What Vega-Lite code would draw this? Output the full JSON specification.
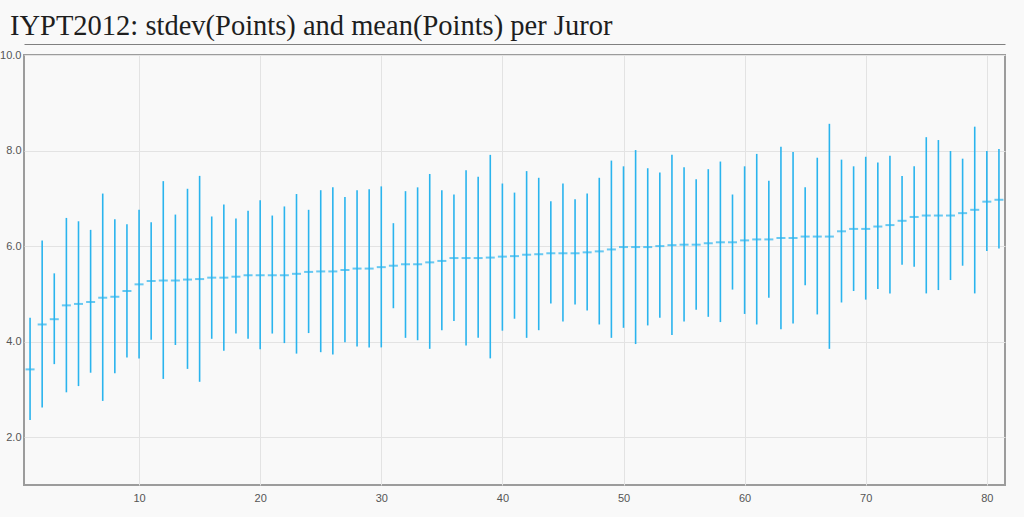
{
  "$schema": "https://vega.github.io/schema/vega-lite/v6.json",
  "width": 981,
  "height": 430,
  "autosize": {"type": "none"},
  "padding": {"left": 24, "top": 55, "right": 19, "bottom": 32},
  "background": "#f9f9f9",
  "title": {
    "text": "IYPT2012: stdev(Points) and mean(Points) per Juror",
    "anchor": "start",
    "frame": "group",
    "font": "Liberation Serif",
    "fontSize": 28.5,
    "fontWeight": "normal",
    "color": "#1e1e1e",
    "dx": -14,
    "offset": 4
  },
  "config": {
    "view": {"stroke": "#9c9c9c", "strokeWidth": 2},
    "axis": {
      "labelFont": "Liberation Sans",
      "labelFontSize": 11,
      "labelColor": "#555555",
      "gridColor": "#e3e3e3",
      "gridWidth": 1,
      "domain": false,
      "ticks": false,
      "title": null,
      "labelFlush": false
    }
  },
  "data": {
    "values": [
      {"juror": 1, "mean": 3.42, "lo": 2.36, "hi": 4.50},
      {"juror": 2, "mean": 4.36, "lo": 2.62, "hi": 6.12},
      {"juror": 3, "mean": 4.47, "lo": 3.53, "hi": 5.43},
      {"juror": 4, "mean": 4.76, "lo": 2.94, "hi": 6.59},
      {"juror": 5, "mean": 4.79, "lo": 3.07, "hi": 6.52},
      {"juror": 6, "mean": 4.83, "lo": 3.35, "hi": 6.34},
      {"juror": 7, "mean": 4.92, "lo": 2.76, "hi": 7.10},
      {"juror": 8, "mean": 4.94, "lo": 3.34, "hi": 6.56},
      {"juror": 9, "mean": 5.06, "lo": 3.67, "hi": 6.46},
      {"juror": 10, "mean": 5.20, "lo": 3.65, "hi": 6.76},
      {"juror": 11, "mean": 5.27, "lo": 4.04, "hi": 6.50},
      {"juror": 12, "mean": 5.28, "lo": 3.22, "hi": 7.36},
      {"juror": 13, "mean": 5.28, "lo": 3.93, "hi": 6.66},
      {"juror": 14, "mean": 5.30, "lo": 3.43, "hi": 7.20},
      {"juror": 15, "mean": 5.31, "lo": 3.16, "hi": 7.47},
      {"juror": 16, "mean": 5.34, "lo": 4.06, "hi": 6.62},
      {"juror": 17, "mean": 5.34, "lo": 3.81, "hi": 6.87},
      {"juror": 18, "mean": 5.36, "lo": 4.17, "hi": 6.58},
      {"juror": 19, "mean": 5.39, "lo": 4.06, "hi": 6.74},
      {"juror": 20, "mean": 5.39, "lo": 3.84, "hi": 6.96},
      {"juror": 21, "mean": 5.39, "lo": 4.17, "hi": 6.64},
      {"juror": 22, "mean": 5.39, "lo": 3.97, "hi": 6.83},
      {"juror": 23, "mean": 5.42, "lo": 3.75, "hi": 7.09},
      {"juror": 24, "mean": 5.46, "lo": 4.18, "hi": 6.76},
      {"juror": 25, "mean": 5.47, "lo": 3.78, "hi": 7.17},
      {"juror": 26, "mean": 5.47, "lo": 3.73, "hi": 7.23},
      {"juror": 27, "mean": 5.50, "lo": 3.99, "hi": 7.03},
      {"juror": 28, "mean": 5.53, "lo": 3.90, "hi": 7.17},
      {"juror": 29, "mean": 5.53, "lo": 3.88, "hi": 7.19},
      {"juror": 30, "mean": 5.56, "lo": 3.88, "hi": 7.25},
      {"juror": 31, "mean": 5.59, "lo": 4.70, "hi": 6.48},
      {"juror": 32, "mean": 5.62, "lo": 4.08, "hi": 7.15},
      {"juror": 33, "mean": 5.62, "lo": 4.03, "hi": 7.23},
      {"juror": 34, "mean": 5.66, "lo": 3.85, "hi": 7.51},
      {"juror": 35, "mean": 5.69, "lo": 4.24, "hi": 7.17},
      {"juror": 36, "mean": 5.75, "lo": 4.43, "hi": 7.08},
      {"juror": 37, "mean": 5.75, "lo": 3.92, "hi": 7.59},
      {"juror": 38, "mean": 5.75, "lo": 4.08, "hi": 7.45},
      {"juror": 39, "mean": 5.76, "lo": 3.65, "hi": 7.91},
      {"juror": 40, "mean": 5.78, "lo": 4.23, "hi": 7.31},
      {"juror": 41, "mean": 5.79, "lo": 4.48, "hi": 7.12},
      {"juror": 42, "mean": 5.82, "lo": 4.08, "hi": 7.57},
      {"juror": 43, "mean": 5.83, "lo": 4.24, "hi": 7.43},
      {"juror": 44, "mean": 5.85, "lo": 4.80, "hi": 6.94},
      {"juror": 45, "mean": 5.85, "lo": 4.42, "hi": 7.31},
      {"juror": 46, "mean": 5.85, "lo": 4.78, "hi": 6.98},
      {"juror": 47, "mean": 5.87, "lo": 4.65, "hi": 7.10},
      {"juror": 48, "mean": 5.89, "lo": 4.36, "hi": 7.43},
      {"juror": 49, "mean": 5.93, "lo": 4.08, "hi": 7.79},
      {"juror": 50, "mean": 5.98, "lo": 4.29, "hi": 7.67},
      {"juror": 51, "mean": 5.98, "lo": 3.95, "hi": 8.01},
      {"juror": 52, "mean": 5.98, "lo": 4.34, "hi": 7.63},
      {"juror": 53, "mean": 6.00, "lo": 4.50, "hi": 7.54},
      {"juror": 54, "mean": 6.02, "lo": 4.14, "hi": 7.91},
      {"juror": 55, "mean": 6.03, "lo": 4.42, "hi": 7.65},
      {"juror": 56, "mean": 6.03, "lo": 4.67, "hi": 7.40},
      {"juror": 57, "mean": 6.06, "lo": 4.52, "hi": 7.61},
      {"juror": 58, "mean": 6.08, "lo": 4.41, "hi": 7.77},
      {"juror": 59, "mean": 6.08, "lo": 5.09, "hi": 7.08},
      {"juror": 60, "mean": 6.12, "lo": 4.58, "hi": 7.67},
      {"juror": 61, "mean": 6.14, "lo": 4.36, "hi": 7.93},
      {"juror": 62, "mean": 6.14, "lo": 4.92, "hi": 7.37},
      {"juror": 63, "mean": 6.17, "lo": 4.26, "hi": 8.08},
      {"juror": 64, "mean": 6.17, "lo": 4.38, "hi": 7.97},
      {"juror": 65, "mean": 6.20, "lo": 5.18, "hi": 7.23},
      {"juror": 66, "mean": 6.20, "lo": 4.57, "hi": 7.85},
      {"juror": 67, "mean": 6.20, "lo": 3.85, "hi": 8.56},
      {"juror": 68, "mean": 6.31, "lo": 4.82, "hi": 7.81},
      {"juror": 69, "mean": 6.36, "lo": 5.06, "hi": 7.67},
      {"juror": 70, "mean": 6.36, "lo": 4.88, "hi": 7.87},
      {"juror": 71, "mean": 6.41, "lo": 5.10, "hi": 7.75},
      {"juror": 72, "mean": 6.44, "lo": 5.01, "hi": 7.89},
      {"juror": 73, "mean": 6.53, "lo": 5.61, "hi": 7.47},
      {"juror": 74, "mean": 6.61, "lo": 5.57, "hi": 7.67},
      {"juror": 75, "mean": 6.64, "lo": 5.01, "hi": 8.28},
      {"juror": 76, "mean": 6.64, "lo": 5.08, "hi": 8.22},
      {"juror": 77, "mean": 6.64, "lo": 5.29, "hi": 7.99},
      {"juror": 78, "mean": 6.69, "lo": 5.59, "hi": 7.83},
      {"juror": 79, "mean": 6.76, "lo": 5.01, "hi": 8.50},
      {"juror": 80, "mean": 6.93, "lo": 5.90, "hi": 7.99},
      {"juror": 81, "mean": 6.97, "lo": 5.95, "hi": 8.03}
    ]
  },
  "resolve": {"axis": {"x": "independent"}},
  "layer": [
    {
      "mark": {"type": "rule", "color": "#2ab4ee", "strokeWidth": 1.6},
      "encoding": {
        "x": {
          "field": "juror",
          "type": "quantitative",
          "scale": {"domain": [0.5, 81.5], "nice": false, "zero": false},
          "axis": {"values": [10, 20, 30, 40, 50, 60, 70, 80], "grid": true, "labelPadding": 7}
        },
        "y": {
          "field": "lo",
          "type": "quantitative",
          "scale": {"domain": [1, 10], "nice": false, "zero": false},
          "axis": {"values": [2, 4, 6, 8, 10], "format": ".1f", "grid": true, "labelPadding": 3}
        },
        "y2": {"field": "hi"}
      }
    },
    {
      "mark": {"type": "tick", "orient": "horizontal", "color": "#2ab4ee", "size": 9, "thickness": 2},
      "encoding": {
        "x": {
          "field": "juror",
          "type": "quantitative",
          "axis": {"orient": "top", "labels": false, "grid": false, "domain": true, "domainColor": "#808080", "domainWidth": 1, "offset": 11}
        },
        "y": {"field": "mean", "type": "quantitative"}
      }
    }
  ]
}
